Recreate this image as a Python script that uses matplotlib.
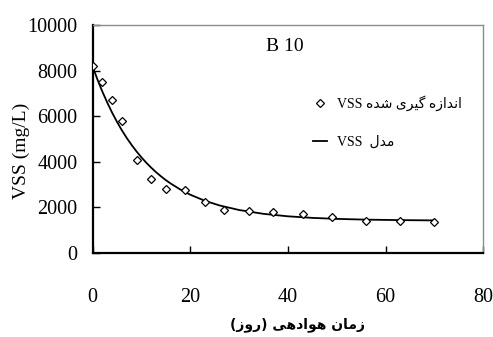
import matplotlib
matplotlib.use("Agg")
import matplotlib.pyplot as plt
from matplotlib.lines import Line2D

# Measured VSS over aeration time
days = [0, 2, 4, 6, 9, 12, 15, 19, 23, 27, 32, 37, 43, 49, 56, 63, 70]
vss_measured = [8200, 7500, 6700, 5800, 4100, 3250, 2800, 2750, 2250, 1900,
                1830, 1800, 1700, 1580, 1400, 1400, 1360]

# Model curve values
model_days = [0, 1, 2, 3, 4, 5, 6, 7, 8, 9, 10, 11, 12, 13, 14, 15, 16, 18,
              20, 23, 26, 30, 35, 40, 45, 50, 56, 63, 70]
model_vss = [8170, 7596, 7070, 6591, 6147, 5745, 5375, 5038, 4733, 4451, 4193,
             3958, 3742, 3542, 3364, 3195, 3047, 2780, 2558, 2291, 2088, 1888,
             1720, 1612, 1543, 1499, 1466, 1445, 1433]

x_ticks = [0, 20, 40, 60, 80]
y_ticks = [0, 2000, 4000, 6000, 8000, 10000]

# --- minimal Persian shaping (presentation forms, visual order) ---
FORMS = {
    "ا": ("\uFE8D", "\uFE8E", None, None),
    "د": ("\uFEA9", "\uFEAA", None, None),
    "ر": ("\uFEAD", "\uFEAE", None, None),
    "ز": ("\uFEAF", "\uFEB0", None, None),
    "و": ("\uFEED", "\uFEEE", None, None),
    "ن": ("\uFEE5", "\uFEE6", "\uFEE7", "\uFEE8"),
    "ه": ("\uFEE9", "\uFEEA", "\uFEEB", "\uFEEC"),
    "م": ("\uFEE1", "\uFEE2", "\uFEE3", "\uFEE4"),
    "ل": ("\uFEDD", "\uFEDE", "\uFEDF", "\uFEE0"),
    "ش": ("\uFEB5", "\uFEB6", "\uFEB7", "\uFEB8"),
    "ی": ("\uFBFC", "\uFBFD", "\uFBFE", "\uFBFF"),
    "گ": ("\uFB92", "\uFB93", "\uFB94", "\uFB95"),
}


def joins_next(ch):
    return ch in FORMS and FORMS[ch][2] is not None


def rtl(text):
    out = []
    for i, ch in enumerate(text):
        if ch not in FORMS:
            out.append(ch)
            continue
        prev = text[i - 1] if i > 0 else ""
        nxt = text[i + 1] if i + 1 < len(text) else ""
        p = joins_next(prev)
        n = joins_next(ch) and nxt in FORMS
        iso, fin, ini, med = FORMS[ch]
        if p and n:
            out.append(med)
        elif p:
            out.append(fin)
        elif n:
            out.append(ini)
        else:
            out.append(iso)
    vis = "".join(reversed(out))
    return vis.translate(str.maketrans("()", ")("))


SERIF = ["Liberation Serif", "DejaVu Sans"]
plt.rcParams["font.family"] = SERIF

fig = plt.figure(figsize=(4.93, 3.37), dpi=100)
ax = fig.add_axes([0.188, 0.249, 0.792, 0.677])

ax.plot(days, vss_measured, linestyle="none", marker="D", markersize=3.6,
        markerfacecolor="white", markeredgecolor="black", markeredgewidth=0.9,
        zorder=3)
ax.plot(model_days, model_vss, color="black", linewidth=1.3, zorder=2)

ax.set_xlim(0, 80)
ax.set_ylim(0, 10000)
ax.set_xticks(x_ticks)
ax.set_yticks(y_ticks)
ax.tick_params(direction="in", length=5, width=1, labelsize=14.5,
               colors="black")
ax.tick_params(axis="x", pad=25)
ax.tick_params(axis="y", pad=11)

for side in ("left", "bottom"):
    ax.spines[side].set_linewidth(1.6)
    ax.spines[side].set_color("black")
for side in ("top", "right"):
    ax.spines[side].set_linewidth(1.0)
    ax.spines[side].set_color("#8c8c8c")

ax.set_ylabel("VSS (mg/L)", fontsize=14)
ax.yaxis.set_label_coords(-0.16, 0.45)
ax.set_xlabel(rtl("زمان هوادهی (روز)"), fontsize=10, fontweight="bold",
              family=["DejaVu Sans"])
ax.xaxis.set_label_coords(0.525, -0.28)

ax.text(0.493, 0.905, "B 10", transform=ax.transAxes, fontsize=14,
        ha="center", va="center")

handles = [
    Line2D([], [], linestyle="none", marker="D", markersize=3.6,
           markerfacecolor="white", markeredgecolor="black",
           markeredgewidth=0.9),
    Line2D([], [], color="black", linewidth=1.3),
]
labels = ["VSS " + rtl("اندازه گیری شده"), "VSS  " + rtl("مدل")]
ax.legend(handles, labels, loc="upper left", frameon=False,
          bbox_to_anchor=(313 / 493, (337 - 95) / 337),
          bbox_transform=fig.transFigure, borderpad=0, borderaxespad=0,
          handlelength=1.0, handletextpad=0.7, labelspacing=1.8,
          prop={"family": SERIF, "size": 10})

fig.savefig("out.png", dpi=100)
